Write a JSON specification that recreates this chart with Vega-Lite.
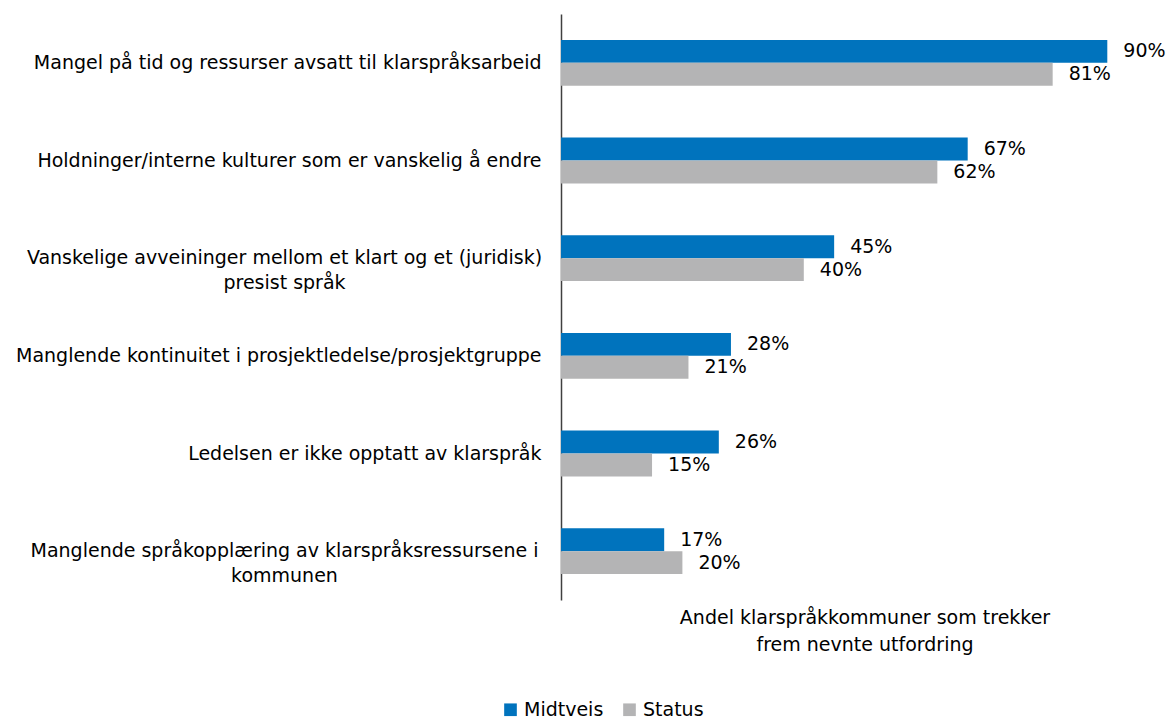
{
  "$schema": "https://vega.github.io/schema/vega-lite/v6.json",
  "autosize": {"type": "none"},
  "padding": {"left": 561, "top": 14, "right": 4, "bottom": 119},
  "width": 607,
  "height": 586,
  "background": "white",
  "config": {
    "font": "DejaVu Sans",
    "view": {"stroke": null}
  },
  "data": {
    "values": [
      {"kategori": "Mangel på tid og ressurser avsatt til klarspråksarbeid", "serie": "Midtveis", "verdi": 0.90},
      {"kategori": "Mangel på tid og ressurser avsatt til klarspråksarbeid", "serie": "Status", "verdi": 0.81},
      {"kategori": "Holdninger/interne kulturer som er vanskelig å endre", "serie": "Midtveis", "verdi": 0.67},
      {"kategori": "Holdninger/interne kulturer som er vanskelig å endre", "serie": "Status", "verdi": 0.62},
      {"kategori": "Vanskelige avveininger mellom et klart og et (juridisk)|presist språk", "serie": "Midtveis", "verdi": 0.45},
      {"kategori": "Vanskelige avveininger mellom et klart og et (juridisk)|presist språk", "serie": "Status", "verdi": 0.40},
      {"kategori": "Manglende kontinuitet i prosjektledelse/prosjektgruppe", "serie": "Midtveis", "verdi": 0.28},
      {"kategori": "Manglende kontinuitet i prosjektledelse/prosjektgruppe", "serie": "Status", "verdi": 0.21},
      {"kategori": "Ledelsen er ikke opptatt av klarspråk", "serie": "Midtveis", "verdi": 0.26},
      {"kategori": "Ledelsen er ikke opptatt av klarspråk", "serie": "Status", "verdi": 0.15},
      {"kategori": "Manglende språkopplæring av klarspråksressursene i|kommunen", "serie": "Midtveis", "verdi": 0.17},
      {"kategori": "Manglende språkopplæring av klarspråksressursene i|kommunen", "serie": "Status", "verdi": 0.20}
    ]
  },
  "encoding": {
    "y": {
      "field": "kategori",
      "type": "nominal",
      "sort": null,
      "scale": {"paddingInner": 0.53, "paddingOuter": 0.265},
      "axis": {
        "title": null,
        "ticks": false,
        "domain": true,
        "domainColor": "#404040",
        "domainWidth": 1.5,
        "labelExpr": "split(datum.value, '|')",
        "labelFontSize": 19,
        "labelColor": "#000000",
        "labelLimit": 700,
        "labelLineHeight": 25,
        "labelAlign": {"condition": {"test": "indexof(datum.value, '|') >= 0", "value": "center"}, "value": "right"},
        "labelPadding": {"condition": {"test": "indexof(datum.value, '|') >= 0", "value": 277}, "value": 20}
      }
    },
    "yOffset": {"field": "serie", "type": "nominal", "scale": {"paddingInner": 0, "paddingOuter": 0}},
    "x": {
      "field": "verdi",
      "type": "quantitative",
      "scale": {"domain": [0, 1]},
      "axis": {
        "title": ["Andel klarspråkkommuner som trekker", "frem nevnte utfordring"],
        "titleFontSize": 19,
        "titleFontWeight": "normal",
        "titleColor": "#000000",
        "titleLineHeight": 27,
        "titlePadding": 8,
        "labels": false,
        "ticks": false,
        "domain": false,
        "grid": false
      }
    }
  },
  "layer": [
    {
      "mark": {"type": "bar"},
      "encoding": {
        "color": {
          "field": "serie",
          "type": "nominal",
          "scale": {"domain": ["Midtveis", "Status"], "range": ["#0073BD", "#B4B4B5"]},
          "legend": {
            "title": null,
            "orient": "none",
            "direction": "horizontal",
            "legendX": -60,
            "legendY": 686,
            "symbolType": "square",
            "symbolSize": 160,
            "symbolStrokeWidth": 0,
            "symbolOpacity": 1,
            "labelFontSize": 19,
            "labelColor": "#000000",
            "columnPadding": 16,
            "labelOffset": 4
          }
        }
      }
    },
    {
      "mark": {"type": "text", "align": "left", "baseline": "middle", "dx": 16, "fontSize": 19, "color": "#000000"},
      "encoding": {
        "text": {"field": "verdi", "type": "quantitative", "format": ".0%"},
        "detail": {"field": "serie"}
      }
    }
  ]
}
